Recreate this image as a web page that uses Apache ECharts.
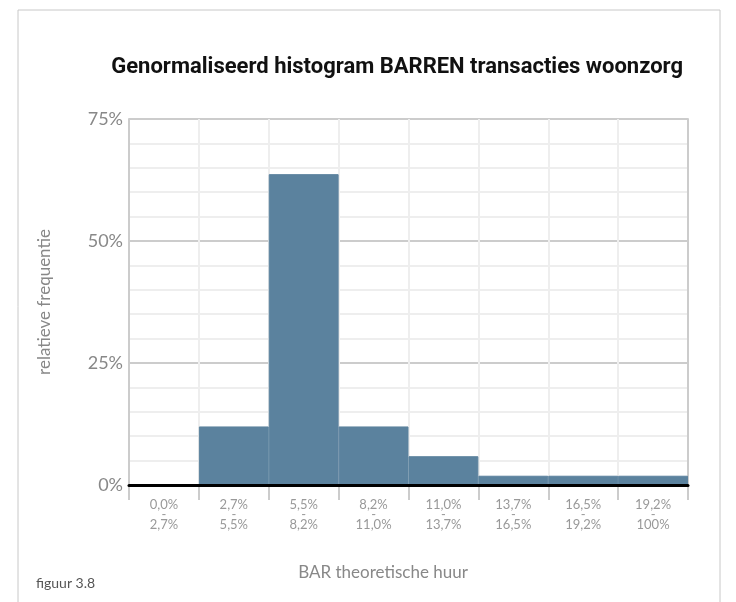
<!DOCTYPE html>
<html>
<head>
<meta charset="utf-8">
<script src="https://cdn.jsdelivr.net/npm/echarts@6/dist/echarts.min.js"></script>
<style>
html,body{margin:0;padding:0;background:#fff;}
#c{width:736px;height:602px;}
</style>
</head>
<body>
<div id="c"></div>
<script>
const categories = ["0,0%\n-\n2,7%", "2,7%\n-\n5,5%", "5,5%\n-\n8,2%", "8,2%\n-\n11,0%", "11,0%\n-\n13,7%", "13,7%\n-\n16,5%", "16,5%\n-\n19,2%", "19,2%\n-\n100%"];
const values = [0, 12, 63.7, 12, 5.9, 1.9, 1.9, 1.9];
const yTicks = [0, 25, 50, 75];
const titleText = "Genormaliseerd histogram BARREN transacties woonzorg";
const yName = "relatieve frequentie";
const xName = "BAR theoretische huur";
const figLabel = "figuur 3.8";

const chart = echarts.init(document.getElementById('c'), null, {renderer: 'canvas'});
chart.setOption({
  animation: false,
  backgroundColor: '#fff',
  title: {
    text: titleText,
    right: 48,
    top: 51,
    textStyle: {fontFamily: 'Roboto', fontWeight: 'bold', fontSize: 22, color: '#111'}
  },
  grid: {left: 129, right: 48, top: 119, bottom: 117},
  graphic: [
    {type: 'rect', shape: {x: 18, y: 10, width: 702, height: 700}, style: {fill: 'none', stroke: '#c8c8c8', lineWidth: 1}, silent: true, z: -10},
    {type: 'text', style: {text: xName, x: 383, y: 573, textAlign: 'center', textVerticalAlign: 'middle', font: '17px Lato', fill: '#888'}},
    {type: 'text', style: {text: figLabel, x: 36, y: 583, textAlign: 'left', textVerticalAlign: 'middle', font: '14px Lato', fill: '#555'}}
  ],
  xAxis: [{
    type: 'category',
    data: categories,
    position: 'bottom',
    boundaryGap: true,
    axisLine: {show: false},
    axisTick: {show: true, interval: 0, length: 15, lineStyle: {color: '#ccc', width: 2}},
    axisLabel: {interval: 0, margin: 15, fontFamily: 'Lato', fontSize: 13, color: '#999', lineHeight: 10, align: 'center'},
    splitLine: {show: true, interval: 0, lineStyle: {color: '#eeeeee', width: 2}}
  }, {
    type: 'category',
    data: categories,
    position: 'bottom',
    offset: 0,
    z: 5,
    axisLine: {show: true, lineStyle: {color: '#000', width: 3}},
    axisTick: {show: false},
    axisLabel: {show: false},
    splitLine: {show: false}
  }],
  yAxis: [{
    type: 'value',
    min: 0, max: 75, interval: 25,
    name: yName,
    nameLocation: 'middle',
    nameGap: 76,
    nameTextStyle: {fontFamily: 'Lato', fontSize: 17, color: '#888'},
    axisLine: {show: true, lineStyle: {color: '#ccc', width: 2}},
    axisTick: {show: false},
    axisLabel: {formatter: v => yTicks.includes(v) ? v + '%' : '', fontFamily: 'Lato', fontSize: 18, color: '#888', margin: 6},
    splitLine: {show: true, lineStyle: {color: '#ccc', width: 2}},
    minorTick: {show: false, splitNumber: 5},
    minorSplitLine: {show: true, lineStyle: {color: '#eeeeee', width: 2}}
  }, {
    type: 'value',
    position: 'right',
    min: 0, max: 75, interval: 25,
    axisLine: {show: true, lineStyle: {color: '#ccc', width: 2}},
    axisTick: {show: false},
    axisLabel: {show: false},
    splitLine: {show: false}
  }],
  series: [{
    type: 'bar',
    data: values,
    barCategoryGap: '0%',
    itemStyle: {color: '#5b829e', borderColor: '#5b829e', borderWidth: 1}
  }]
});
</script>
</body>
</html>
